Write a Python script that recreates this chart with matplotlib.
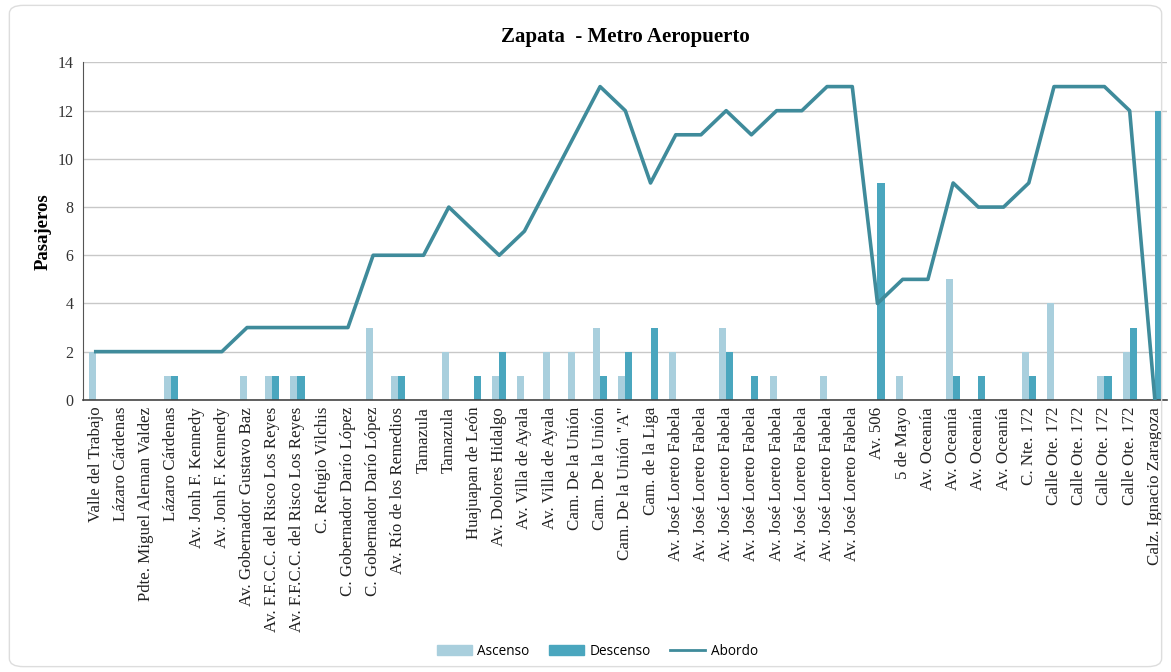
import numpy as np
import matplotlib
matplotlib.use('Agg')
import matplotlib.pyplot as plt
from matplotlib.patches import FancyBboxPatch, Patch
from matplotlib.lines import Line2D

# paradas de la ruta
paradas = [
    'Valle del Trabajo', 'Lázaro Cárdenas', 'Pdte. Miguel Aleman Valdez', 'Lázaro Cárdenas',
    'Av. Jonh F. Kennedy', 'Av. Jonh F. Kennedy', 'Av. Gobernador Gustavo Baz',
    'Av. F.F.C.C. del Risco Los Reyes', 'Av. F.F.C.C. del Risco Los Reyes', 'C. Refugio Vilchis',
    'C. Gobernador Darío López', 'C. Gobernador Darío López', 'Av. Río de los Remedios',
    'Tamazula', 'Tamazula', 'Huajuapan de León', 'Av. Dolores Hidalgo', 'Av. Villa de Ayala',
    'Av. Villa de Ayala', 'Cam. De la Unión', 'Cam. De la Unión', 'Cam. De la Unión "A"',
    'Cam. de la Liga', 'Av. José Loreto Fabela', 'Av. José Loreto Fabela', 'Av. José Loreto Fabela',
    'Av. José Loreto Fabela', 'Av. José Loreto Fabela', 'Av. José Loreto Fabela',
    'Av. José Loreto Fabela', 'Av. José Loreto Fabela', 'Av. 506', '5 de Mayo', 'Av. Oceanía',
    'Av. Oceanía', 'Av. Oceanía', 'Av. Oceanía', 'C. Nte. 172', 'Calle Ote. 172', 'Calle Ote. 172',
    'Calle Ote. 172', 'Calle Ote. 172', 'Calz. Ignacio Zaragoza',
]
ascenso = [2, 0, 0, 1, 0, 0, 1, 1, 1, 0, 0, 3, 1, 0, 2, 0, 1, 1, 2, 2, 3, 1,
           0, 2, 0, 3, 0, 1, 0, 1, 0, 0, 1, 0, 5, 0, 0, 2, 4, 0, 1, 2, 0]
descenso = [0, 0, 0, 1, 0, 0, 0, 1, 1, 0, 0, 0, 1, 0, 0, 1, 2, 0, 0, 0, 1, 2,
            3, 0, 0, 2, 1, 0, 0, 0, 0, 9, 0, 0, 1, 1, 0, 1, 0, 0, 1, 3, 12]
abordo = [2, 2, 2, 2, 2, 2, 3, 3, 3, 3, 3, 6, 6, 6, 8, 7, 6, 7, 9, 11, 13, 12,
          9, 11, 11, 12, 11, 12, 12, 13, 13, 4, 5, 5, 9, 8, 8, 9, 13, 13, 13, 12, 0]

c_asc = '#a9cfdd'
c_desc = '#4aa6be'
c_line = '#3f8b9b'
serif = ['Liberation Serif', 'DejaVu Serif']
sans = ['Open Sans', 'DejaVu Sans']

fig = plt.figure(figsize=(11.71, 6.72), dpi=100)
ax = fig.add_axes([0.071, 0.405, 0.926, 0.502])

x = np.arange(len(paradas))
w = 0.28
ax.bar(x - w / 2, ascenso, width=w, color=c_asc, zorder=2)
ax.bar(x + w / 2, descenso, width=w, color=c_desc, zorder=2)
ax.plot(x, abordo, color=c_line, linewidth=2.6, zorder=3)

ax.set_xlim(-0.5, len(paradas) - 0.5)
ax.set_ylim(0, 14)
ax.set_yticks(range(0, 15, 2))
ax.yaxis.grid(True, color='#c8c8c8', linewidth=1)
ax.set_axisbelow(True)
for s in ['top', 'right']:
    ax.spines[s].set_visible(False)
ax.spines['left'].set_color('#555555')
ax.spines['bottom'].set_color('#444444')
ax.spines['bottom'].set_linewidth(1.2)
ax.tick_params(axis='both', length=0)
ax.tick_params(axis='y', pad=7)
ax.tick_params(axis='x', pad=5)

ax.set_xticks(x)
ax.set_xticklabels(paradas, rotation=90, fontsize=12.2, family=serif, color='#222222')
for lab in ax.get_yticklabels():
    lab.set_family(serif)
    lab.set_fontsize(11.5)
    lab.set_color('#333333')

ax.set_ylabel('Pasajeros', fontsize=13.5, fontweight='bold', family=serif, labelpad=4)
ax.set_title('Zapata  - Metro Aeropuerto', fontsize=15, fontweight='bold', family=serif, pad=15)

handles = [Patch(color=c_asc, label='Ascenso'),
           Patch(color=c_desc, label='Descenso'),
           Line2D([0], [0], color=c_line, linewidth=2, label='Abordo')]
fig.legend(handles=handles, loc='center', bbox_to_anchor=(0.51, 0.031), ncol=3, frameon=False,
           prop={'family': sans, 'size': 9.8}, handlelength=2.6, columnspacing=1.4, handletextpad=0.4)

# marco redondeado
borde = FancyBboxPatch((0.008, 0.008), 0.984, 0.984, boxstyle='round,pad=0,rounding_size=0.012',
                       transform=fig.transFigure, fill=False, edgecolor='#dddddd', linewidth=1)
fig.patches.append(borde)

plt.savefig('out.png', dpi=100)
plt.close()
